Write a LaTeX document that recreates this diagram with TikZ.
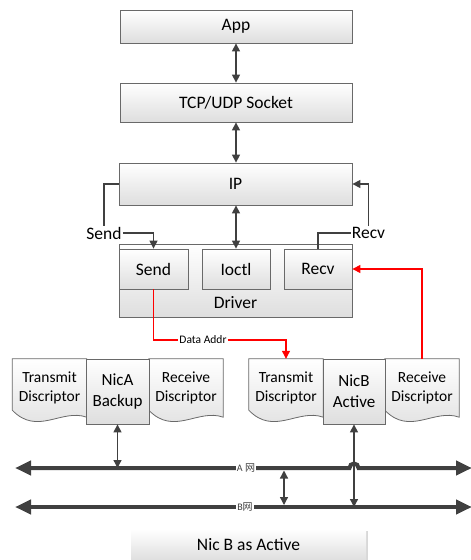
\documentclass[tikz,border=0pt]{standalone}
\usepackage{fontspec}
\setmainfont{Carlito}
\newfontfamily\cjkfont{Noto Sans CJK SC}
\usetikzlibrary{arrows.meta,shadows,backgrounds}
\definecolor{edgec}{RGB}{105,105,105}
\definecolor{arrc}{RGB}{64,64,64}
\definecolor{botc}{RGB}{222,222,222}
\definecolor{redc}{RGB}{255,0,0}
\newcommand\fbig{\fontsize{17.5}{21}\selectfont}
\newcommand\fnic{\fontsize{17}{21}\selectfont}
\newcommand\fdoc{\fontsize{15.5}{19}\selectfont}
\newcommand\fsmall{\fontsize{11.5}{13}\selectfont}
\newcommand\fbus{\fontsize{10}{12}\selectfont}
\newcommand\docshape[1]{%
  \path[docsty] (#1.north west) -- ([yshift=6pt]#1.south west)
    .. controls ([xshift=25pt,yshift=-20pt]#1.south west) and ([xshift=-25pt,yshift=8pt]#1.south east) .. ([yshift=-1pt]#1.south east)
    -- (#1.north east) -- cycle;}
\begin{document}
\begin{tikzpicture}[x=1pt,y=-1pt,
  box/.style={draw=edgec, line width=0.8pt, top color=white, bottom color=botc,
    drop shadow={shadow xshift=1.2pt,shadow yshift=-1.2pt,fill=black!25},
    inner sep=0pt, font=\fbig, text=black},
  nicbox/.style={box, font=\fnic, align=center},
  docsty/.style={draw=edgec, line width=0.8pt, top color=white, bottom color=botc},
  doctxt/.style={inner sep=0pt, minimum width=74pt, minimum height=57pt, font=\fdoc, align=center},
  dbl/.style={draw=arrc, line width=1.3pt, {Triangle[length=8pt,width=8pt]}-{Triangle[length=8pt,width=8pt]}},
  sgl/.style={draw=arrc, line width=1.3pt, -{Triangle[length=8pt,width=8pt]}},
  plain/.style={draw=arrc, line width=1.3pt},
  redarr/.style={draw=redc, line width=1.1pt, -{Triangle[length=8pt,width=8pt]}},
  redln/.style={draw=redc, line width=1.1pt},
  bus/.style={draw=arrc, line width=4pt, {Triangle[length=16pt,width=14pt]}-{Triangle[length=16pt,width=14pt]}},
  lbl/.style={inner sep=1pt, font=\fbig},
  buslbl/.style={fill=white, inner sep=1pt, font=\fbus, text=arrc},
  capbox/.style={top color=white, bottom color=botc, drop shadow={shadow xshift=2pt,shadow yshift=-2pt,fill=black!30},
    minimum width=235pt, minimum height=32pt, inner sep=0pt, font=\fbig},
]
\useasboundingbox (0,0) rectangle (471,560);

% upper stack
\node[box, minimum width=232pt, minimum height=33pt] (app) at (236,26.5) {App};
\node[box, minimum width=232pt, minimum height=39pt] (tcp) at (236,102.5) {TCP/UDP Socket};
\node[box, minimum width=233pt, minimum height=42pt] (ip) at (235.5,184) {IP};
\node[box, minimum width=233pt, minimum height=73pt] (driver) at (235.5,280.5) {};
\node[inner sep=0pt, font=\fbig] (driverl) at (235.5,303) {Driver};
\node[box, minimum width=69pt, minimum height=40pt] (send) at (153.5,269) {Send};
\node[box, minimum width=68pt, minimum height=40pt] (ioctl) at (236,269) {Ioctl};
\node[box, minimum width=68pt, minimum height=40pt] (recv) at (318,269) {Recv};

\draw[dbl] (app.south) -- (tcp.north);
\draw[dbl] (tcp.south) -- (tcp.south |- ip.north);
\draw[dbl] (ioctl.north |- ip.south) -- (ioctl.north);

\node[lbl] (sendl) at (104,233) {Send};
\node[lbl] (recvl) at (368.5,233) {Recv};
\draw[plain] (ip.west) -| (sendl.north);
\draw[sgl] (sendl.east) -| (send.north);
\draw[plain] (recv.north) |- (recvl.west);
\draw[sgl] (recvl.north) |- (ip.east);

% NIC groups
\node[doctxt] (tdA) at (49.5,387.5) {Transmit\\Discriptor};
\node[doctxt] (rdA) at (186,387.5) {Receive\\Discriptor};
\node[doctxt] (tdB) at (286,387.5) {Transmit\\Discriptor};
\node[doctxt] (rdB) at (422,387.5) {Receive\\Discriptor};
\begin{scope}[on background layer]
  \docshape{tdA}
  \docshape{rdA}
  \docshape{tdB}
  \docshape{rdB}
\end{scope}
\node[nicbox, minimum width=63pt, minimum height=65pt] (nicA) at (117.5,391.5) {NicA\\Backup};
\node[nicbox, minimum width=62pt, minimum height=65pt] (nicB) at (354,391.5) {NicB\\Active};

% red data paths
\node[fill=white, inner sep=1pt, font=\fsmall] (dal) at (203,340) {Data Addr};
\draw[redln] (send.south) |- (dal.west);
\draw[redarr] (dal.east) -| (tdB.north);
\draw[redarr] (rdB.north) |- (recv.east);

% buses
\coordinate (aL) at (15,468);
\coordinate (aR) at (472,468);
\coordinate (bL) at (15,507);
\coordinate (bR) at (472,507);
\coordinate (hop) at (354,468);
\coordinate (m1) at (284,470.5);
\coordinate (m2) at (284,505);
\draw[bus] (aL) -- ([xshift=-4.5pt]hop) arc[start angle=180,end angle=0,radius=4.5pt] -- (aR);
\draw[bus] (bL) -- (bR);
\node[buslbl] (al) at (246,468) {A {\cjkfont 网}};
\node[buslbl] (bl) at (245,507) {B{\cjkfont 网}};
\draw[dbl] (nicA.south) -- (nicA.south |- aL);
\draw[dbl] (nicB.south) -- (nicB.south |- bL);
\draw[dbl] (m1) -- (m2);

% caption
\node[capbox] (cap) at (248.5,545) {Nic B as Active};
\end{tikzpicture}
\end{document}
